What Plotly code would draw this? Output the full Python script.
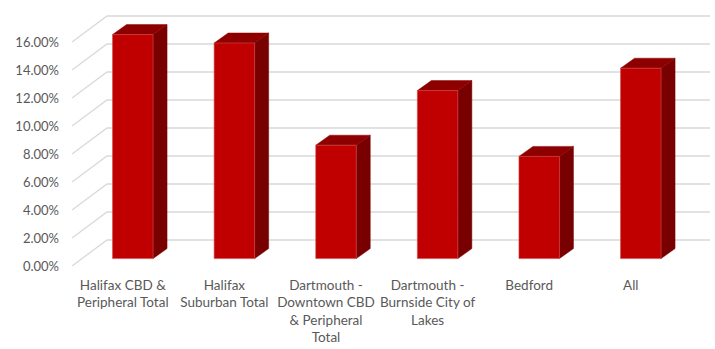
import plotly.graph_objects as go

# ---- data ----
categories = [
    "Halifax CBD &<br>Peripheral Total",
    "Halifax<br>Suburban Total",
    "Dartmouth -<br>Downtown CBD<br>& Peripheral<br>Total",
    "Dartmouth -<br>Burnside City of<br>Lakes",
    "Bedford",
    "All",
]
values = [0.160, 0.154, 0.081, 0.120, 0.073, 0.136]
y_ticks = [0.00, 0.02, 0.04, 0.06, 0.08, 0.10, 0.12, 0.14, 0.16]

# ---- layout geometry (pixels -> data units) ----
W, H = 715, 349
ML, MR, MT, MB = 72, 5, 14, 83
PX_X = 101.6          # px per category
PX_Y = 1400.0         # px per unit value (fraction)
plot_w = W - ML - MR
plot_h = H - MT - MB
x0r = -0.5
x1r = x0r + plot_w / PX_X
y1r = plot_h / PX_Y

DX = 35 / PX_X        # full depth offset in x
DY = 26 / PX_Y        # full depth offset in y
FX = 10 / PX_X        # bar front-face depth offset
FY = 7.4 / PX_Y
BW = 40.5 / PX_X      # bar face width
BDX = 14 / PX_X       # bar depth
BDY = 10 / PX_Y

FRONT = "#C00000"
TOP = "#8E0000"
SIDE = "#780000"
GRID = "#D9D9D9"

fig = go.Figure()

# gridlines: left-wall diagonal + back-wall horizontal
gx, gy = [], []
for t in y_ticks:
    gx += [x0r, x0r + DX, x1r, None]
    gy += [t, t + DY, t + DY, None]
fig.add_trace(go.Scatter(x=gx, y=gy, mode="lines",
                         line=dict(color=GRID, width=1.3),
                         hoverinfo="skip", showlegend=False, cliponaxis=False))

for i, v in enumerate(values):
    xa = i + FX - BW / 2
    xb = i + FX + BW / 2
    base = FY
    top = FY + v
    # side face
    fig.add_trace(go.Scatter(
        x=[xb, xb + BDX, xb + BDX, xb, xb],
        y=[base, base + BDY, top + BDY, top, base],
        mode="lines", fill="toself", fillcolor=SIDE,
        line=dict(color=SIDE, width=0.5),
        hoverinfo="skip", showlegend=False))
    # top face
    fig.add_trace(go.Scatter(
        x=[xa, xb, xb + BDX, xa + BDX, xa],
        y=[top, top, top + BDY, top + BDY, top],
        mode="lines", fill="toself", fillcolor=TOP,
        line=dict(color=TOP, width=0.5),
        hoverinfo="skip", showlegend=False))
    # front face
    fig.add_trace(go.Scatter(
        x=[xa, xb, xb, xa, xa],
        y=[base, base, top, top, base],
        mode="lines", fill="toself", fillcolor=FRONT,
        line=dict(color="#D04848", width=0.6),
        hoverinfo="skip", showlegend=False))

yfont = dict(family="Lato, Noto Sans, sans-serif", size=13, color="#595959")
xfont = dict(family="Lato, Noto Sans, sans-serif", size=13.5, color="#595959")

fig.update_layout(
    width=W, height=H,
    margin=dict(l=ML, r=MR, t=MT, b=MB, pad=0, autoexpand=False),
    paper_bgcolor="white", plot_bgcolor="white",
    font=yfont,
    showlegend=False,
    xaxis=dict(range=[x0r, x1r], showgrid=False, zeroline=False,
               showline=False, tickmode="array", automargin=False,
               tickvals=list(range(len(categories))), ticktext=categories,
               tickangle=0,
               ticks="", tickfont=xfont, ticklabelstandoff=9, fixedrange=True),
    yaxis=dict(range=[0, y1r], showgrid=False, zeroline=False,
               showline=False, tickmode="array", tickvals=y_ticks,
               automargin=False,
               tickformat=".2%", ticks="", tickfont=yfont,
               ticklabelstandoff=12, fixedrange=True),
)

fig.write_html(
    "out.html",
    config={"displayModeBar": False},
    post_script="document.body.style.margin='0';document.body.style.padding='0';",
)
